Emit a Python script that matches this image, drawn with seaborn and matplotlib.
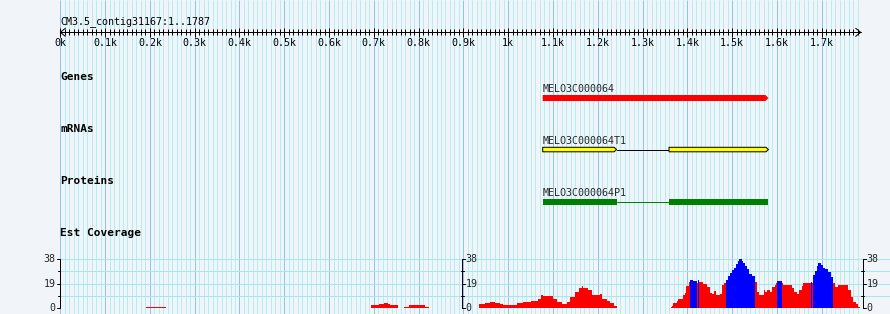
import matplotlib
matplotlib.use("Agg")
import matplotlib.pyplot as plt
from matplotlib.patches import Polygon, Rectangle
import seaborn as sns
import pandas as pd
import numpy as np

# ---------------- data ----------------
seq_name = "CM3.5_contig31167"
seq_len = 1787
ruler_ticks = [0, 100, 200, 300, 400, 500, 600, 700, 800, 900,
               1000, 1100, 1200, 1300, 1400, 1500, 1600, 1700]
ruler_labels = ["0k", "0.1k", "0.2k", "0.3k", "0.4k", "0.5k", "0.6k", "0.7k",
                "0.8k", "0.9k", "1k", "1.1k", "1.2k", "1.3k", "1.4k", "1.5k",
                "1.6k", "1.7k"]
track_names = ["Genes", "mRNAs", "Proteins", "Est Coverage"]

gene_name = "MELO3C000064"
gene_start, gene_end = 1077, 1581
mrna_name = "MELO3C000064T1"
mrna_exon_starts = [1077, 1359]
mrna_exon_ends = [1242, 1581]
protein_name = "MELO3C000064P1"
cds_starts = [1077, 1359]
cds_ends = [1244, 1581]

cov_start = [0, 191, 235, 693, 712, 723, 731, 736, 755, 767, 778, 814, 823,
             923, 935, 948, 959, 970, 982, 989, 1019, 1034, 1052, 1067, 1073,
             1077, 1101, 1108, 1119, 1131, 1138, 1149, 1157, 1164, 1168, 1179,
             1186, 1205, 1209, 1220, 1227, 1236, 1244,
             1363, 1366, 1369, 1376, 1380, 1391, 1395, 1398, 1404, 1406, 1413,
             1421, 1423, 1425, 1434, 1436, 1443, 1451, 1454, 1459, 1464, 1473,
             1477, 1482, 1486, 1491, 1495, 1499, 1504, 1509, 1512, 1516, 1521,
             1525, 1529, 1534, 1538, 1544, 1552, 1556, 1561, 1570, 1573, 1577,
             1584, 1588, 1596, 1599, 1601, 1611, 1614, 1633, 1638, 1644, 1650,
             1655, 1659, 1675, 1678, 1681, 1685, 1689, 1692, 1698, 1702, 1707,
             1715, 1720, 1726, 1730, 1737, 1759, 1765, 1770, 1776, 1782, 1786]
cov_value = [0, 0.8, 0, 2.4, 3.2, 4, 3.2, 2.4, 0, 0.8, 2.4, 0.8, 0,
             0.6, 3, 3.7, 4.5, 3.7, 3.2, 2.4, 3.7, 4.5, 5.9, 7.2, 10.4,
             9.4, 7.2, 4.5, 3.2, 4.5, 8.6, 12.6, 15.3, 17.4, 16, 14,
             10.2, 11, 7.2, 5.9, 3.7, 1.9, 0,
             0.8, 2, 4, 5.6, 7.4, 10, 12, 17.3, 20.5, 22, 21,
             19.4, 22, 20, 21, 18.9, 16.2, 12, 11.4, 13.3, 10, 11,
             18, 19.4, 21.5, 24.7, 27.4, 29.5, 31.4, 34, 36.7, 38, 36.7,
             35.3, 32.7, 30, 26.8, 24.7, 20, 12.8, 10.6, 14, 12.8, 14,
             12.8, 16.2, 18, 19.3, 21.4, 19.3, 18, 15.3, 12.6, 11.2, 14.4,
             17.1, 19.8, 20.6, 19.8, 26, 28.6, 32.6, 34.8, 33.2, 31.3, 30,
             27.8, 24.1, 19.3, 16.6, 18, 13.9, 8.6, 4.5, 3.2, 1, 0]
cov_group = list("rrrrrrrrrrrrr"
                 "rrrrrrrrrrrrrrrrrrrrrrrrrrrrrr"
                 "rrrrrrrrrbbrbrbrrrrrrrrrbbbbbbbbbbbbbbrrrrrrrrrrbrrrrrrrrbrbbbbbbbbbrrrrrrrrr")
cov_max = 38
cov_tick_values = [0, 19, 38]
cov_minor_values = [9.5, 28.5]
cov_axis_positions = [0, 897, 1792]

assert len(cov_start) == len(cov_value) == len(cov_group)

# ---------------- layout / style ----------------
W, H, DPI = 890, 314, 100
X0 = 60.3                 # pixel of bp 0
PX_PER_BP = 0.4479
def px(n):                # pixel length -> bp length
    return n / PX_PER_BP
xlim = (-X0 / PX_PER_BP, (W - X0) / PX_PER_BP)
LW = 72.0 / DPI           # 1 pixel line width in points

BG = "#f1f5fa"
MINOR = "#b2eef2"
MAJOR = "#8cc6ee"
HGRID = "#a6e6ee"

sns.set_theme(style="white")
plt.rcParams["font.family"] = ["DejaVu Sans Mono", "DejaVu Sans"]

fig = plt.figure(figsize=(W / DPI, H / DPI), dpi=DPI, facecolor=BG)
ax = fig.add_axes([0, 0, 1, 1])
ax.set_facecolor(BG)
ax.set_xlim(*xlim)
ax.set_ylim(H, 0)
ax.axis("off")

# vertical grid
minor_pos = [p for p in range(0, seq_len, 10) if p % 100 != 0]
major_pos = [p for p in range(0, seq_len, 100)]
ax.vlines(minor_pos, 0, H, colors=MINOR, lw=LW, zorder=0)
ax.vlines(major_pos, 0, H, colors=MAJOR, lw=LW, zorder=0)

# ruler
RY = 32.3
ax.plot([0, seq_len], [RY, RY], color="black", lw=LW, zorder=3)
for xb, d in [(0, 1), (seq_len, -1)]:
    ax.plot([xb + d * px(5), xb, xb + d * px(5)], [RY - 4, RY, RY + 4],
            color="black", lw=LW, zorder=3)
ruler_minor = [p for p in range(10, seq_len, 10) if p % 100 != 0]
ax.vlines(ruler_minor, RY - 2.8, RY + 2.6, colors="black", lw=LW, zorder=3)
ax.vlines(ruler_ticks, RY - 4.5, RY + 4.5, colors="black", lw=LW, zorder=3)
for t, lab in zip(ruler_ticks, ruler_labels):
    ax.text(t, 46.3, lab, ha="center", va="baseline", fontsize=7.2, color="black")
ax.text(0, 24.3, f"{seq_name}:1..{seq_len}", ha="left", va="baseline",
        fontsize=7.2, color="black")

# track labels
for i, name in enumerate(track_names):
    ax.text(0, 80 + 52 * i, name, ha="left", va="baseline", fontsize=8,
            fontweight="bold", color="black")

def arrow_box(start, end, top, bot, tip):
    mid = (top + bot) / 2
    return [(start, top), (end - tip, top), (end, mid), (end - tip, bot), (start, bot)]

# gene
ax.text(gene_start, 92.3, gene_name, ha="left", va="baseline", fontsize=7.2)
ax.add_patch(Polygon(arrow_box(gene_start, gene_end, 95, 101, px(3)),
                     closed=True, facecolor="#ff0000", edgecolor="none", zorder=3))

# mRNA
ax.text(mrna_exon_starts[0], 144.5, mrna_name, ha="left", va="baseline", fontsize=7.2)
ax.plot([mrna_exon_ends[0], mrna_exon_starts[1]], [149.5, 149.5],
        color="black", lw=LW, zorder=2)
for s, e in zip(mrna_exon_starts, mrna_exon_ends):
    ax.add_patch(Polygon(arrow_box(s, e, 147.3, 151.8, px(2.5)), closed=True,
                         facecolor="#ffff00", edgecolor="black", lw=LW, zorder=3))

# protein
ax.text(cds_starts[0], 196.3, protein_name, ha="left", va="baseline", fontsize=7.2)
ax.plot([cds_ends[0], cds_starts[1]], [201.5, 201.5], color="#008000", lw=LW, zorder=2)
for s, e in zip(cds_starts, cds_ends):
    ax.add_patch(Rectangle((s, 199), e - s, 6, facecolor="#008000",
                           edgecolor="none", zorder=3))

# ---------------- coverage ----------------
cov_top_px, cov_bot_px = 259.0, 308.3
axc = fig.add_axes([0, (H - cov_bot_px) / H, 1, (cov_bot_px - cov_top_px) / H])
axc.set_facecolor("none")
axc.patch.set_alpha(0)

edges = cov_start + [seq_len]
mids = [(a + b) / 2 for a, b in zip(edges[:-1], edges[1:])]
df = pd.DataFrame({"mid": mids, "value": cov_value, "group": cov_group})

axc.hlines([0] + cov_minor_values + cov_tick_values[1:], 0, xlim[1],
           colors=HGRID, lw=LW, zorder=0)
sns.histplot(data=df, x="mid", weights="value", bins=edges, hue="group",
             palette={"r": "#ff0000", "b": "#0000ff"}, multiple="layer",
             alpha=1, linewidth=0, legend=False, ax=axc, zorder=2)
axc.set_xlim(*xlim)
axc.set_ylim(0, cov_max)
axc.axis("off")

yunit = cov_max / (cov_bot_px - cov_top_px)   # value per pixel
for i, xa in enumerate(cov_axis_positions):
    axc.plot([xa, xa], [0, cov_max], color="black", lw=LW, zorder=4, clip_on=False)
    if i == 0:
        for v in cov_tick_values:
            axc.plot([xa - px(3.7), xa], [v, v], color="black", lw=LW, zorder=4, clip_on=False)
            axc.text(xa - px(4.5), v, str(v), ha="right", va="center",
                     fontsize=7.2, zorder=4, clip_on=False)
        for v in cov_minor_values:
            axc.plot([xa - px(2.5), xa], [v, v], color="black", lw=LW, zorder=4, clip_on=False)
    else:
        for v in cov_tick_values:
            axc.plot([xa, xa + px(3)], [v, v], color="black", lw=LW, zorder=4, clip_on=False)
            axc.text(xa + px(3.5), v, str(v), ha="left", va="center",
                     fontsize=7.2, zorder=4, clip_on=False)
        for v in cov_minor_values:
            axc.plot([xa - px(1.5), xa + px(1.5)], [v, v], color="black", lw=LW,
                     zorder=4, clip_on=False)

fig.savefig("out.png", dpi=DPI, facecolor=BG)
